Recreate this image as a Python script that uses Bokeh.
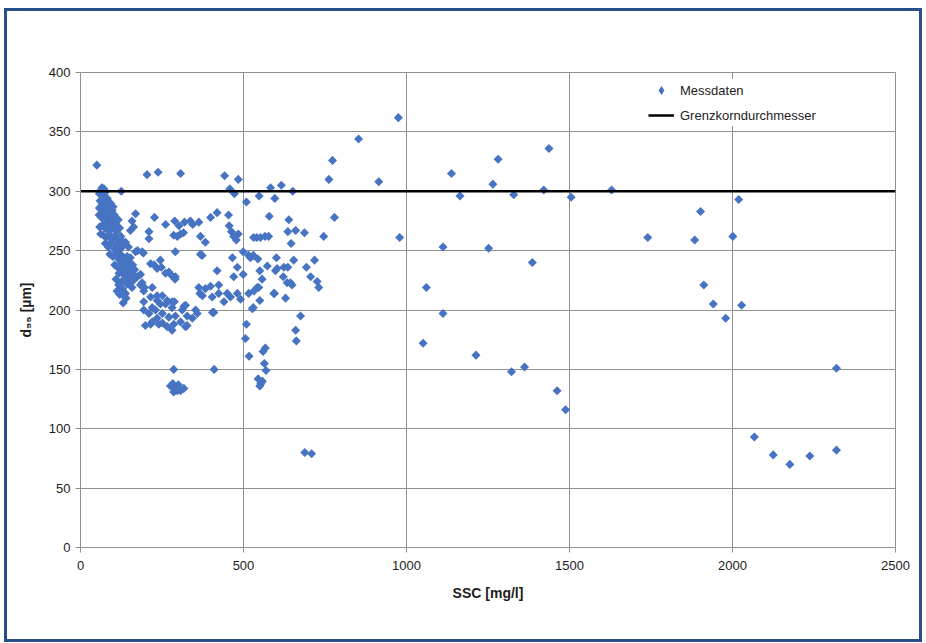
import numpy as np
from bokeh.plotting import figure
from bokeh.models import Range1d, FixedTicker, Legend, LegendItem, Div, Spacer
from bokeh.layouts import row, column
from bokeh.embed import file_html
from bokeh.resources import INLINE

# ---------------- data ----------------
x_ticks = [0, 500, 1000, 1500, 2000, 2500]
y_ticks = [0, 50, 100, 150, 200, 250, 300, 350, 400]

# outliers / upper points
ssc_a = [50, 204, 238, 307, 442, 484, 66, 125, 458, 472, 509, 548, 583, 616, 596, 651,
         773, 762, 915, 853, 975, 779, 746, 979, 688, 709]
d95_a = [322, 314, 316, 315, 313, 310, 303, 300, 302, 298, 291, 296, 303, 305, 294, 300,
         326, 310, 308, 344, 362, 278, 262, 261, 80, 79]

# points above 1000 mg/l
ssc_b = [1138, 1164, 1265, 1281, 1329, 1421, 1437, 1505, 1629,
         1112, 1252, 1386, 1740, 1884, 1902, 2001, 2019,
         1912, 1941, 1979, 2028,
         1061, 1112, 1051, 1213, 1322, 1362, 1462, 1488,
         2067, 2125, 2176, 2237, 2319, 2319]
d95_b = [315, 296, 306, 327, 297, 301, 336, 295, 301,
         253, 252, 240, 261, 259, 283, 262, 293,
         221, 205, 193, 204,
         219, 197, 172, 162, 148, 152, 132, 116,
         93, 78, 70, 77, 82, 151]

# points 400-740 mg/l
ssc_c = [419, 399, 454, 579, 639, 456, 463, 470, 478, 484, 531, 541, 552, 566, 577,
         636, 660, 687, 646, 499, 516, 544, 466, 601, 654, 718, 521, 530,
         419, 481, 550, 573, 603, 636, 693, 598, 624,
         470, 499, 557, 622, 644, 706, 726, 731, 649, 634,
         399, 424, 404, 424, 440, 460, 481, 491, 516, 532, 547, 550, 595, 629, 542, 593,
         405, 530, 675, 527, 509, 660,
         506, 662, 567, 560, 517, 564, 569, 545, 553, 558, 550, 410, 409, 450]
d95_c = [282, 278, 280, 279, 276, 271, 266, 262, 259, 264, 261, 261, 261, 262, 262,
         266, 267, 265, 256, 249, 246, 243, 244, 244, 242, 242, 244, 246,
         233, 236, 233, 237, 235, 236, 236, 233, 236,
         228, 230, 226, 228, 223, 228, 224, 219, 221, 223,
         220, 221, 211, 214, 207, 211, 214, 209, 214, 216, 219, 208, 214, 210, 219, 214,
         198, 202, 195, 201, 188, 183,
         176, 174, 168, 165, 161, 155, 149, 142, 138, 140, 136, 150, 198, 214]

# points 130-400 mg/l
ssc_d = [169, 158, 163, 153, 227, 261, 289, 302, 319, 337, 363, 344,
         210, 210, 286, 307, 297, 316, 368, 383,
         291, 368, 169, 189, 245, 153, 147, 175, 193, 373,
         215, 235, 271, 291, 226, 248, 261, 280, 290,
         128, 148, 174, 184, 189,
         133, 138, 143, 158, 163, 184, 196, 194, 220, 235,
         363, 383, 366, 374,
         215, 251, 266, 281, 245, 220,
         194, 235, 261, 281, 322, 353, 317, 288,
         194, 210, 230, 251, 271, 291, 312, 327, 343,
         199, 220, 240, 266, 281, 322, 286, 327, 358, 307, 215, 235, 251,
         286, 276, 283, 291, 297, 307, 317, 286, 300]
d95_d = [281, 275, 270, 267, 278, 272, 275, 271, 274, 275, 274, 272,
         266, 260, 263, 264, 262, 265, 262, 257,
         249, 247, 249, 249, 242, 244, 253, 250, 248, 246,
         239, 235, 232, 228, 238, 236, 231, 229, 226,
         232, 230, 228, 230, 223,
         212, 214, 222, 219, 225, 221, 219, 216, 219, 212,
         219, 218, 214, 212,
         211, 212, 208, 202, 205, 202,
         207, 208, 205, 207, 204, 200, 203, 207,
         200, 197, 200, 197, 194, 195, 200, 195, 193,
         187, 190, 188, 186, 183, 186, 188, 187, 197, 190, 188, 193, 189,
         150, 136, 138, 134, 132, 132, 134, 131, 137]

# dense cluster below 170 mg/l
ssc_e = [58, 63, 70, 75, 82, 72,
         60, 67, 74, 85, 92, 80, 100,
         62, 70, 78, 88, 97, 104, 95,
         64, 72, 80, 90, 99, 108, 116,
         66, 75, 84, 93, 102, 111, 120, 86,
         70, 79, 88, 97, 106, 115, 124,
         76, 85, 94, 103, 112, 121, 130, 138, 128,
         90, 99, 108, 117, 126, 135, 143, 110,
         105, 114, 122, 131, 140, 148, 118, 135,
         145, 109, 126, 112, 120, 129, 140, 131, 117,
         57, 59, 62, 58, 150, 156, 158, 152, 160, 166, 155, 165, 150]
d95_e = [298, 301, 296, 299, 294, 302,
         292, 289, 291, 288, 290, 290, 287,
         285, 283, 286, 282, 284, 280, 279,
         278, 276, 279, 275, 277, 273, 276,
         271, 269, 272, 268, 270, 266, 269, 267,
         263, 261, 264, 260, 262, 259, 262,
         256, 253, 257, 252, 255, 251, 254, 257, 258,
         247, 245, 248, 243, 246, 242, 245, 250,
         238, 236, 239, 234, 237, 233, 231, 229,
         226, 226, 224, 216, 213, 218, 210, 206, 221,
         280, 270, 264, 286, 240, 232, 228, 236, 238, 234, 226, 229, 222]

ssc = ssc_a + ssc_b + ssc_c + ssc_d + ssc_e
d95 = d95_a + d95_b + d95_c + d95_d + d95_e

grenz_x = [0, 2500]
grenz_y = [300, 300]

series_names = ["Messdaten", "Grenzkorndurchmesser"]

# ---------------- styling ----------------
FONT = "Liberation Sans"
BLUE = "#4773c3"
GRID = "#8f8f8f"
TXT = "#1c1c1c"
FRAME = "#2a4e8c"

W, H = 912, 628

p = figure(width=W, height=H, output_backend="svg", toolbar_location=None,
           x_range=Range1d(0, 2500), y_range=Range1d(0, 400),
           min_border_left=73, min_border_right=24, min_border_top=61, min_border_bottom=92,
           background_fill_color="white", border_fill_color="white")

p.outline_line_color = GRID
p.outline_line_width = 1

for ax, ticks in ((p.xaxis[0], x_ticks), (p.yaxis[0], y_ticks)):
    ax.ticker = FixedTicker(ticks=ticks)
    ax.axis_line_color = GRID
    ax.major_tick_line_color = GRID
    ax.major_tick_out = 5
    ax.major_tick_in = 0
    ax.minor_tick_line_color = None
    ax.major_label_text_font = FONT
    ax.major_label_text_font_size = "13px"
    ax.major_label_text_color = TXT
    ax.axis_label_text_font = FONT
    ax.axis_label_text_font_size = "14px"
    ax.axis_label_text_font_style = "bold"
    ax.axis_label_text_color = TXT

p.xaxis[0].major_label_standoff = 8
p.yaxis[0].major_label_standoff = 5
p.xaxis[0].axis_label = "SSC [mg/l]"
p.xaxis[0].axis_label_standoff = 12
p.yaxis[0].axis_label = "d₉₅ [µm]"
p.yaxis[0].axis_label_standoff = 12

p.xgrid.ticker = FixedTicker(ticks=x_ticks)
p.ygrid.ticker = FixedTicker(ticks=y_ticks)
p.xgrid.grid_line_color = GRID
p.ygrid.grid_line_color = GRID

sc = p.scatter(ssc, d95, marker="square", angle=np.pi / 4, size=6.4,
               fill_color=BLUE, line_color=None)
ln = p.line(grenz_x, grenz_y, line_color="black", line_width=2.5)
# legend key only (no visible data)
key = p.scatter([np.nan], [np.nan], marker="diamond", size=9, fill_color=BLUE, line_color=None)

legend = Legend(items=[LegendItem(label=series_names[0], renderers=[key]),
                       LegendItem(label=series_names[1], renderers=[ln])],
                location=(568, 421), border_line_color=None,
                background_fill_color="white", background_fill_alpha=1.0,
                label_text_font=FONT, label_text_font_size="13px", label_text_color=TXT,
                glyph_width=26, glyph_height=22, label_height=22, spacing=3,
                padding=5, margin=0, label_standoff=6)
p.add_layout(legend)

# blue frame around the chart (as in the scanned figure)
def bar(w, h):
    return Div(text="", width=w, height=h, margin=0,
               styles={"background-color": FRAME})

framed = column(bar(W + 6, 3),
                row(bar(3, H), p, bar(3, H), spacing=0),
                bar(W + 6, 3), spacing=0)
page = column(Spacer(height=8, margin=0),
              row(Spacer(width=4, margin=0), framed, spacing=0),
              spacing=0)

open("out.html", "w").write(file_html(page, INLINE))
